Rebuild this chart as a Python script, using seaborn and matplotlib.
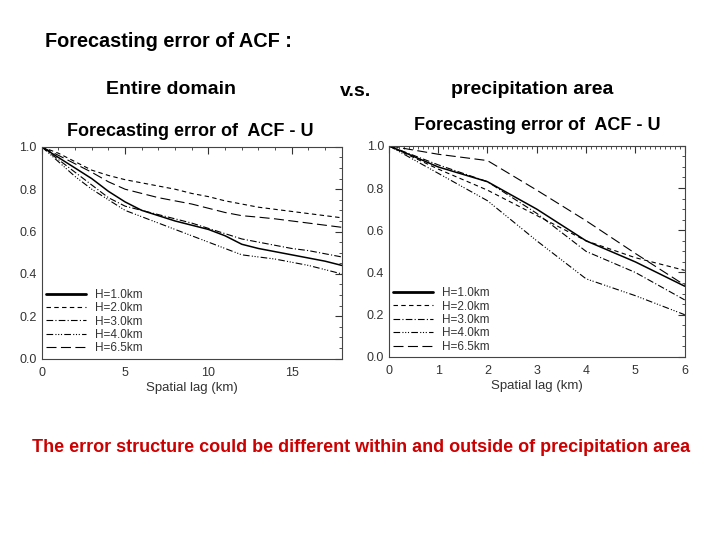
import matplotlib
matplotlib.use('Agg')
import matplotlib.pyplot as plt
import seaborn as sns
import pandas as pd
from matplotlib.ticker import MultipleLocator, FormatStrFormatter

sns.set_style('white')
plt.rcParams['font.family'] = ['Liberation Sans', 'DejaVu Sans']

# Entire domain: lag (km) and ACF of forecasting error
lag_all = [0, 1, 2, 3, 4, 5, 6, 7, 8, 9, 10, 11, 12, 13, 14, 15, 16, 17, 18]
acf_all = {
    'H=1.0km': [1.0, 0.95, 0.90, 0.85, 0.79, 0.74, 0.70, 0.675, 0.65, 0.63, 0.61, 0.58, 0.54, 0.52, 0.505, 0.49, 0.475, 0.46, 0.44],
    'H=2.0km': [1.0, 0.97, 0.93, 0.89, 0.865, 0.845, 0.83, 0.815, 0.80, 0.78, 0.765, 0.745, 0.73, 0.715, 0.705, 0.695, 0.685, 0.675, 0.665],
    'H=3.0km': [1.0, 0.94, 0.88, 0.82, 0.76, 0.72, 0.70, 0.68, 0.66, 0.64, 0.615, 0.59, 0.565, 0.55, 0.535, 0.52, 0.51, 0.495, 0.48],
    'H=4.0km': [1.0, 0.93, 0.86, 0.80, 0.75, 0.70, 0.67, 0.64, 0.61, 0.58, 0.55, 0.52, 0.49, 0.48, 0.47, 0.455, 0.44, 0.42, 0.40],
    'H=6.5km': [1.0, 0.96, 0.92, 0.88, 0.835, 0.80, 0.78, 0.76, 0.745, 0.73, 0.71, 0.69, 0.675, 0.668, 0.66, 0.65, 0.64, 0.63, 0.62],
}

# Precipitation area
lag_pcp = [0, 1, 2, 3, 4, 5, 6]
acf_pcp = {
    'H=1.0km': [1.0, 0.90, 0.83, 0.70, 0.55, 0.45, 0.335],
    'H=2.0km': [1.0, 0.89, 0.79, 0.67, 0.55, 0.47, 0.41],
    'H=3.0km': [1.0, 0.91, 0.83, 0.68, 0.50, 0.40, 0.27],
    'H=4.0km': [1.0, 0.87, 0.74, 0.55, 0.37, 0.29, 0.20],
    'H=6.5km': [1.0, 0.96, 0.93, 0.79, 0.645, 0.49, 0.34],
}

line_styles = {
    'H=1.0km': ('-', 1.1),
    'H=2.0km': ((0, (4, 3)), 0.8),
    'H=3.0km': ((0, (6, 2, 1, 2)), 0.8),
    'H=4.0km': ((0, (6, 2, 1, 1.5, 1, 1.5, 1, 2)), 0.8),
    'H=6.5km': ((0, (9, 4)), 0.8),
}


def draw_panel(ax, lags, series, xmax, xmajor, xminor):
    for name, values in series.items():
        df = pd.DataFrame({'lag': lags, 'acf': values})
        ls, lw = line_styles[name]
        sns.lineplot(data=df, x='lag', y='acf', ax=ax, color='black',
                     linestyle=ls, linewidth=lw, label=name)
    ax.set_xlim(0, xmax)
    ax.set_ylim(0, 1.0)
    ax.xaxis.set_major_locator(MultipleLocator(xmajor))
    ax.xaxis.set_minor_locator(MultipleLocator(xminor))
    ax.yaxis.set_major_locator(MultipleLocator(0.2))
    ax.yaxis.set_minor_locator(MultipleLocator(0.05))
    ax.yaxis.set_major_formatter(FormatStrFormatter('%.1f'))
    ax.tick_params(which='both', direction='in', top=True, right=True,
                   colors='#333333', labelsize=9)
    ax.tick_params(which='major', length=5, width=0.8)
    ax.tick_params(axis='x', which='major', pad=6)
    ax.tick_params(which='minor', length=2.5, width=0.6)
    for sp in ax.spines.values():
        sp.set_color('#444444')
        sp.set_linewidth(0.8)
    ax.set_xlabel('Spatial lag (km)', fontsize=9.5, color='#333333', labelpad=2)
    ax.set_ylabel('')
    leg = ax.legend(loc='lower left', frameon=False, fontsize=8.5,
                    handlelength=3.4, handletextpad=0.75, labelspacing=0.12,
                    borderaxespad=0.15, borderpad=0.2, bbox_to_anchor=(0.0, 0.0))
    for t in leg.get_texts():
        t.set_color('#333333')
    for h in leg.get_lines():
        if h.get_linestyle() == '-':
            h.set_linewidth(2.0)


fig = plt.figure(figsize=(7.2, 5.4), dpi=100)
ax1 = fig.add_axes([0.058, 0.336, 0.4167, 0.392])
ax2 = fig.add_axes([0.540, 0.339, 0.411, 0.391])

draw_panel(ax1, lag_all, acf_all, 18, 5, 1)
draw_panel(ax2, lag_pcp, acf_pcp, 6, 1, 0.1)

fig.text(45 / 720, 1 - 42 / 540, 'Forecasting error of ACF :', fontsize=14.3,
         fontweight='bold', color='black', ha='left', va='center')
fig.text(171 / 720, 1 - 90 / 540, 'Entire domain', fontsize=14,
         fontweight='bold', color='black', ha='center', va='center')
fig.text(356 / 720, 1 - 92 / 540, 'v.s.', fontsize=14,
         fontweight='bold', color='black', ha='center', va='center')
fig.text(532 / 720, 1 - 90 / 540, 'precipitation area', fontsize=14,
         fontweight='bold', color='black', ha='center', va='center')
fig.text(190 / 720, 1 - 132 / 540, 'Forecasting error of  ACF - U', fontsize=13,
         fontweight='bold', color='black', ha='center', va='center')
fig.text(537 / 720, 1 - 125 / 540, 'Forecasting error of  ACF - U', fontsize=13,
         fontweight='bold', color='black', ha='center', va='center')
fig.text(361 / 720, 1 - 448 / 540,
         'The error structure could be different within and outside of precipitation area',
         fontsize=13, fontweight='bold', color='#cc0000', ha='center', va='center')

fig.savefig('out.png', dpi=100)
